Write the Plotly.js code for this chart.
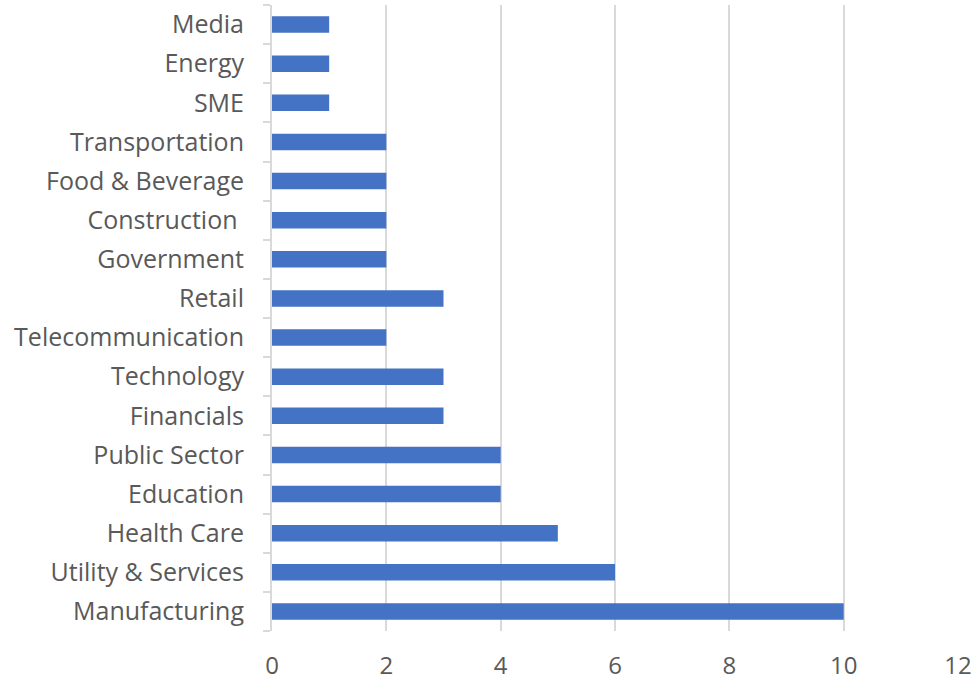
<!DOCTYPE html>
<html>
<head>
<meta charset="utf-8">
<script src="https://cdn.plot.ly/plotly-3.0.1.min.js"></script>
<style>html,body{margin:0;padding:0;background:#fff;}#chart{width:980px;height:681px;}</style>
</head>
<body>
<div id="chart"></div>
<script>
const categories = ["Manufacturing","Utility & Services","Health Care","Education","Public Sector","Financials","Technology","Telecommunication","Retail","Government","Construction ","Food & Beverage","Transportation","SME","Energy","Media"];
const values = [10,6,5,4,4,3,3,2,3,2,2,2,2,1,1,1];
const xTicks = [0,2,4,6,8,10,12];

const trace = {
  type: "bar",
  orientation: "h",
  y: categories,
  x: values,
  width: 0.42,
  marker: {color: "#4472C4"},
  hoverinfo: "x+y"
};
const layout = {
  width: 980, height: 681,
  margin: {l: 272, r: 22, t: 5, b: 50},
  paper_bgcolor: "#fff", plot_bgcolor: "#fff",
  showlegend: false,
  font: {family: "'Open Sans', Lato, sans-serif", size: 25, color: "#595959"},
  xaxis: {
    range: [0, 12], tickvals: xTicks, ticktext: xTicks.map(String),
    tickfont: {size: 24},
    showgrid: true, gridcolor: "#d9d9d9", gridwidth: 2,
    zeroline: false, showline: false, ticks: "", ticklabelstandoff: 18,
    fixedrange: true
  },
  yaxis: {
    type: "category", categoryorder: "array", categoryarray: categories,
    showline: true, linecolor: "#d9d9d9", linewidth: 2,
    ticks: "outside", tickson: "boundaries", ticklen: 7, tickcolor: "#d9d9d9", tickwidth: 2,
    showgrid: false, ticklabelstandoff: 21, fixedrange: true
  }
};
Plotly.newPlot("chart", [trace], layout, {displayModeBar: false, staticPlot: true});
</script>
</body>
</html>
